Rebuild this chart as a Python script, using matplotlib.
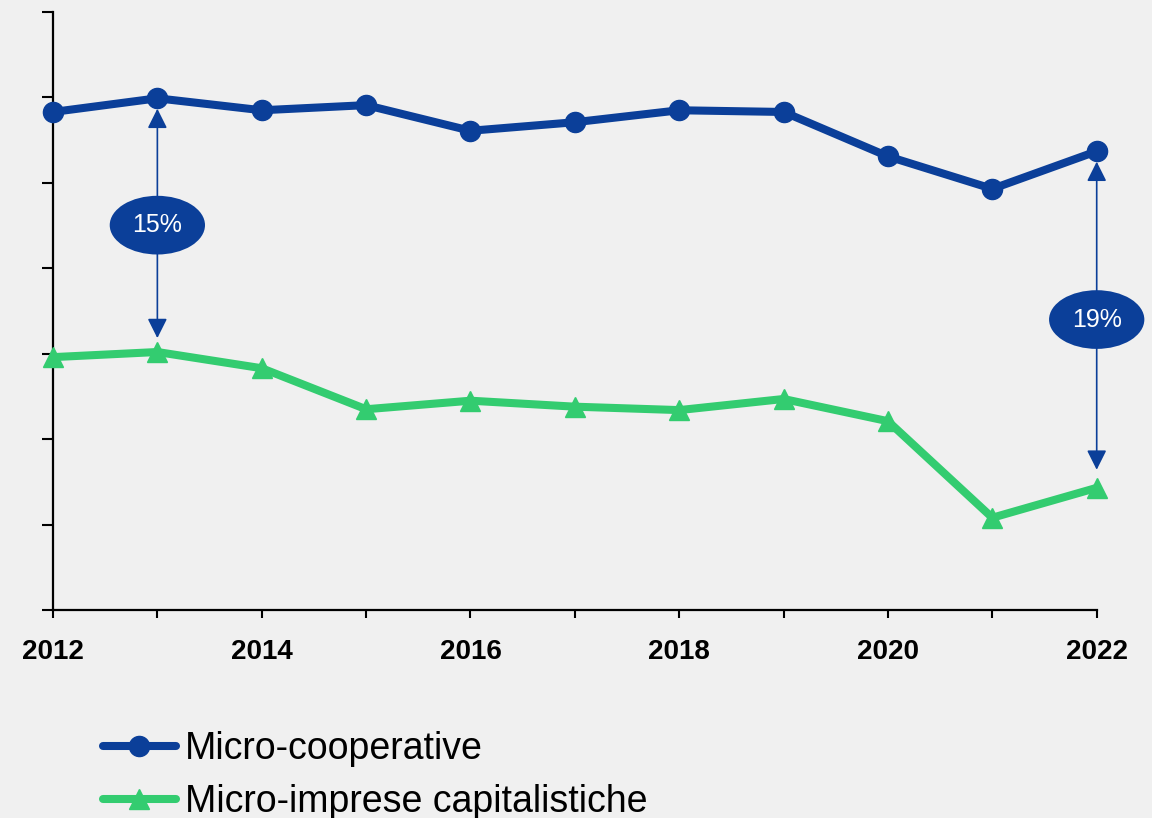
import matplotlib.pyplot as plt
import numpy as np

plt.rcParams["font.family"] = ["Liberation Sans", "DejaVu Sans"]

# dati (scala dell'asse y senza etichette, unità arbitrarie)
years = np.arange(2012, 2023)
coop = [5.83, 5.99, 5.85, 5.91, 5.61, 5.71, 5.85, 5.83, 5.31, 4.93, 5.37]
capit = [2.96, 3.02, 2.83, 2.35, 2.45, 2.38, 2.34, 2.47, 2.21, 1.08, 1.43]
series_labels = ["Micro-cooperative", "Micro-imprese capitalistiche"]
gap_years = [2013, 2022]
gap_labels = ["15%", "19%"]
xtick_years = [2012, 2014, 2016, 2018, 2020, 2022]

BLUE = "#0B3F99"
GREEN = "#33CC70"
BG = "#F0F0F0"

fig = plt.figure(figsize=(11.52, 8.18), dpi=100, facecolor=BG)
ax = fig.add_axes([0.046, 0.2543, 0.906, 0.731])
ax.set_facecolor(BG)

ax.plot(years, coop, color=BLUE, lw=5.8, marker="o", markersize=14.5,
        solid_capstyle="round", label=series_labels[0], clip_on=False, zorder=4)
ax.plot(years, capit, color=GREEN, lw=5.8, marker="^", markersize=15,
        solid_capstyle="round", label=series_labels[1], clip_on=False, zorder=4)

# frecce doppie con etichetta ellittica
shrinks = {2013: (7.5, 10), 2022: (7.5, 13)}
for yr, lab in zip(gap_years, gap_labels):
    i = list(years).index(yr)
    top, bot = coop[i], capit[i]
    sa, sb = shrinks[yr]
    ax.annotate("", xy=(yr, bot), xytext=(yr, top),
                arrowprops=dict(arrowstyle="<|-|>", color=BLUE, lw=1.2,
                                mutation_scale=30, shrinkA=sa, shrinkB=sb),
                annotation_clip=False, zorder=3)
    ax.text(yr, (top + bot) / 2, lab, ha="center", va="center", fontsize=18,
            color="white", zorder=5, clip_on=False,
            bbox=dict(boxstyle="ellipse,pad=0.35", fc=BLUE, ec="none"))

ax.set_xlim(2012, 2022)
ax.set_ylim(0, 7)
ax.set_xticks(years, minor=True)
ax.set_xticks(xtick_years)
ax.set_xticklabels([str(y) for y in xtick_years], fontsize=20, fontweight="bold")
ax.set_yticks(np.arange(0, 8))
ax.set_yticklabels([])
ax.tick_params(axis="y", direction="out", length=8, width=1.5, color="black")
ax.tick_params(axis="x", which="both", direction="out", length=6, width=1.5,
               color="black", pad=15)

ax.spines["top"].set_visible(False)
ax.spines["right"].set_visible(False)
ax.spines["left"].set_linewidth(1.6)
ax.spines["bottom"].set_linewidth(1.6)

fig.legend(loc="upper left", bbox_to_anchor=(0.089, 0.1065), frameon=False,
           fontsize=27, handlelength=1.95, handletextpad=0.25,
           labelspacing=0.45, borderpad=0, borderaxespad=0)

fig.savefig("out.png", dpi=100, facecolor=BG)
